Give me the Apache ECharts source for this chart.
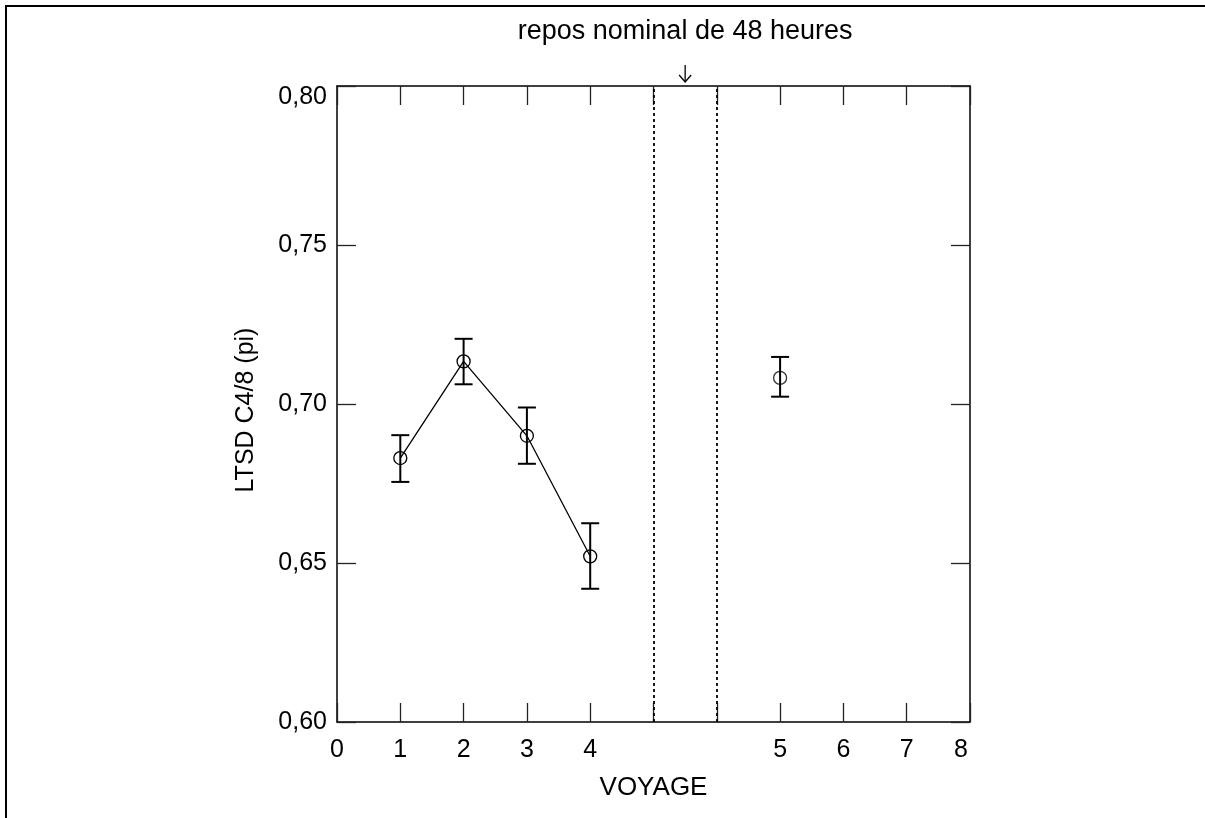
<!DOCTYPE html>
<html>
<head>
<meta charset="utf-8">
<script src="https://cdn.jsdelivr.net/npm/echarts@6/dist/echarts.min.js"></script>
<style>
html, body { margin: 0; padding: 0; background: #fff; }
#main { width: 1205px; height: 818px; }
</style>
</head>
<body>
<div id="main"></div>
<script>
// ---- data ----
const voyageLabels = ['1', '2', '3', '4', '5'];
const voyageX = [1, 2, 3, 4, 7];           // position of each voyage on the axis
const connected = [true, true, true, true, false];
const means   = [0.683, 0.7134, 0.690, 0.6521, 0.7082];
const errLow  = [0.6755, 0.7062, 0.6812, 0.6419, 0.7023];
const errHigh = [0.6902, 0.7205, 0.6989, 0.6625, 0.7148];
const xTickLabels = ['0', '1', '2', '3', '4', '', '', '5', '6', '7', '8'];
const restBounds = [5, 6];
const annotationText = 'repos nominal de 48 heures';
const yMin = 0.60, yMax = 0.80, yStep = 0.05;

const FONT = '"Liberation Sans", Arial, Helvetica, sans-serif';
const lineData = [], soloData = [], errData = [];
for (let i = 0; i < means.length; i++) {
  if (connected[i]) lineData.push([voyageX[i], means[i]]);
  else soloData.push([voyageX[i], means[i]]);
  errData.push([voyageX[i], errLow[i], errHigh[i]]);
}
const restMid = (restBounds[0] + restBounds[1]) / 2;
const xLast = xTickLabels.length - 1;

const axisLineStyle = { color: '#000', width: 1.5 };
const tickStyle = { color: '#222', width: 1.3 };
const labelFont = { fontSize: 25, fontFamily: FONT, color: '#000' };

const chart = echarts.init(document.getElementById('main'));
chart.setOption({
  animation: false,
  backgroundColor: '#fff',
  grid: { left: 337, right: 235, top: 86, bottom: 96 },
  graphic: [{
    type: 'rect', shape: { x: 6, y: 6, width: 1400, height: 1000 },
    style: { fill: 'none', stroke: '#000', lineWidth: 2 }, silent: true
  }],
  xAxis: [{
    type: 'value', min: 0, max: xLast, interval: 1, position: 'bottom',
    axisLine: { show: true, onZero: false, lineStyle: axisLineStyle },
    axisTick: { show: true, inside: true, length: 19, lineStyle: tickStyle },
    axisLabel: Object.assign({
      formatter: v => {
        const i = Math.round(v);
        const t = xTickLabels[i] || '';
        return i === xLast ? '{end|' + t + '}' : t;
      },
      margin: 16,
      rich: { end: Object.assign({ padding: [0, 18, 0, 0] }, labelFont) }
    }, labelFont),
    splitLine: { show: false },
    name: 'VOYAGE', nameLocation: 'middle', nameGap: 53,
    nameTextStyle: { fontSize: 26, fontFamily: FONT, color: '#000' }
  }, {
    type: 'value', min: 0, max: xLast, interval: 1, position: 'top',
    axisLine: { show: true, onZero: false, lineStyle: axisLineStyle },
    axisTick: { show: true, inside: true, length: 19, lineStyle: tickStyle },
    axisLabel: { show: false }, splitLine: { show: false }
  }],
  yAxis: [{
    type: 'value', min: yMin, max: yMax, interval: yStep, position: 'left',
    axisLine: { show: true, onZero: false, lineStyle: axisLineStyle },
    axisTick: { show: true, inside: true, length: 19, lineStyle: tickStyle },
    axisLabel: Object.assign({
      formatter: v => {
        const t = v.toFixed(2).replace('.', ',');
        return Math.abs(v - yMax) < 1e-9 ? '{top|' + t + '}' : t;
      },
      margin: 10,
      rich: { top: Object.assign({ padding: [22, 0, 0, 0] }, labelFont) }
    }, labelFont),
    splitLine: { show: false },
    name: 'LTSD C4/8 (pi)', nameLocation: 'middle', nameGap: 78,
    nameTextStyle: { fontSize: 25, fontFamily: FONT, color: '#000', padding: [0, 12, 0, 0] }
  }, {
    type: 'value', min: yMin, max: yMax, interval: yStep, position: 'right',
    axisLine: { show: true, onZero: false, lineStyle: axisLineStyle },
    axisTick: { show: true, inside: true, length: 19, lineStyle: tickStyle },
    axisLabel: { show: false }, splitLine: { show: false }
  }],
  series: [{
    type: 'line', data: lineData, xAxisIndex: 0, yAxisIndex: 0,
    symbol: 'circle', symbolSize: 13,
    lineStyle: { color: '#000', width: 1.3 },
    itemStyle: { color: 'rgba(0,0,0,0)', borderColor: '#000', borderWidth: 1.3 },
    markLine: {
      silent: true, symbol: 'none', label: { show: false },
      lineStyle: { color: '#000', width: 1.8, type: [3, 3] },
      data: restBounds.map(v => ({ xAxis: v }))
    },
    z: 3
  }, {
    type: 'scatter', data: soloData, xAxisIndex: 0, yAxisIndex: 0,
    symbol: 'circle', symbolSize: 13,
    itemStyle: { color: 'rgba(0,0,0,0)', borderColor: '#000', borderWidth: 1.3 },
    z: 3
  }, {
    type: 'custom', data: errData, xAxisIndex: 0, yAxisIndex: 0,
    renderItem: (params, api) => {
      const x = api.value(0);
      const lo = api.coord([x, api.value(1)]);
      const hi = api.coord([x, api.value(2)]);
      const w = 9;
      const st = { stroke: '#000', lineWidth: 2 };
      return { type: 'group', children: [
        { type: 'line', shape: { x1: lo[0], y1: lo[1], x2: hi[0], y2: hi[1] }, style: st },
        { type: 'line', shape: { x1: lo[0] - w, y1: lo[1], x2: lo[0] + w, y2: lo[1] }, style: st },
        { type: 'line', shape: { x1: hi[0] - w, y1: hi[1], x2: hi[0] + w, y2: hi[1] }, style: st }
      ]};
    },
    z: 2
  }, {
    type: 'custom', data: [[restMid, yMax]], xAxisIndex: 0, yAxisIndex: 0,
    clip: false, silent: true,
    renderItem: (params, api) => {
      const p = api.coord([api.value(0), api.value(1)]);
      const st = { stroke: '#000', lineWidth: 1.3, fill: 'none' };
      return { type: 'group', children: [
        { type: 'text', style: {
            text: annotationText, x: p[0], y: p[1] - 54,
            align: 'center', verticalAlign: 'middle',
            textAlign: 'center', textVerticalAlign: 'middle',
            font: '27px ' + FONT, fill: '#000' } },
        { type: 'line', shape: { x1: p[0], y1: p[1] - 21, x2: p[0], y2: p[1] - 4 }, style: st },
        { type: 'polyline', shape: { points: [[p[0] - 6, p[1] - 11], [p[0], p[1] - 4], [p[0] + 6, p[1] - 11]] }, style: st }
      ]};
    }
  }]
});
</script>
</body>
</html>
